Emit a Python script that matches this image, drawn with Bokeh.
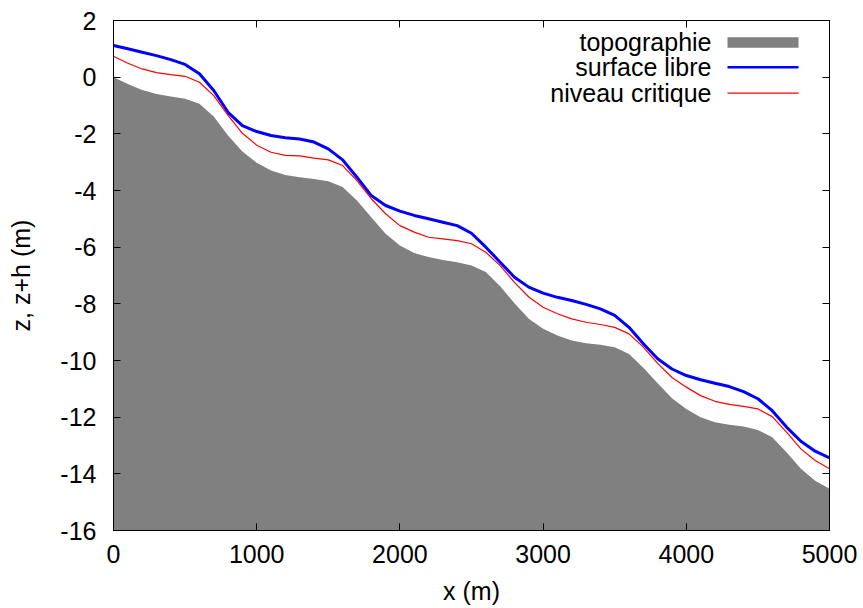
from bokeh.plotting import figure
from bokeh.models import Range1d, LinearAxis, FixedTicker, Label, BoxAnnotation
from bokeh.embed import file_html
from bokeh.resources import INLINE

# ---- data ----
x_m = [0, 100, 200, 300, 400, 500, 600, 700, 800, 900,
       1000, 1100, 1200, 1300, 1400, 1500, 1600, 1700, 1800, 1900,
       2000, 2100, 2200, 2300, 2400, 2500, 2600, 2700, 2800, 2900,
       3000, 3100, 3200, 3300, 3400, 3500, 3600, 3700, 3800, 3900,
       4000, 4100, 4200, 4300, 4400, 4500, 4600, 4700, 4800, 4900, 5000]

topographie = [0.0, -0.24, -0.45, -0.59, -0.68, -0.76, -0.94, -1.39, -2.06, -2.62,
               -3.02, -3.29, -3.45, -3.53, -3.59, -3.67, -3.88, -4.35, -4.94, -5.53,
               -5.94, -6.21, -6.35, -6.45, -6.53, -6.65, -6.88, -7.38, -7.98, -8.53,
               -8.88, -9.12, -9.29, -9.39, -9.44, -9.53, -9.77, -10.26, -10.80, -11.33,
               -11.71, -12.0, -12.18, -12.27, -12.33, -12.45, -12.71, -13.24, -13.82, -14.24, -14.53]

surface_libre = [1.12, 1.0, 0.88, 0.76, 0.62, 0.45, 0.12, -0.47, -1.24, -1.71,
                 -1.92, -2.06, -2.14, -2.18, -2.29, -2.53, -2.92, -3.53, -4.18, -4.53,
                 -4.73, -4.88, -5.0, -5.12, -5.24, -5.51, -6.0, -6.53, -7.06, -7.41,
                 -7.62, -7.77, -7.88, -8.02, -8.18, -8.41, -8.83, -9.41, -9.94, -10.3,
                 -10.53, -10.68, -10.8, -10.92, -11.1, -11.35, -11.77, -12.35, -12.85, -13.2, -13.44]

niveau_critique = [0.74, 0.49, 0.29, 0.16, 0.09, 0.03, -0.18, -0.65, -1.35, -1.98,
                   -2.40, -2.65, -2.76, -2.78, -2.86, -2.92, -3.12, -3.65, -4.29, -4.82,
                   -5.24, -5.47, -5.65, -5.71, -5.77, -5.88, -6.18, -6.65, -7.24, -7.76,
                   -8.12, -8.35, -8.53, -8.65, -8.73, -8.83, -9.06, -9.53, -10.1, -10.6,
                   -10.94, -11.24, -11.44, -11.55, -11.62, -11.71, -11.98, -12.53, -13.12, -13.53, -13.82]

x_ticks = [0, 1000, 2000, 3000, 4000, 5000]
y_ticks = [2, 0, -2, -4, -6, -8, -10, -12, -14, -16]
x_min, x_max = 0, 5000
y_min, y_max = -16, 2

x_title = "x (m)"
y_title = "z, z+h (m)"
legend_names = ["topographie", "surface libre", "niveau critique"]

FONT = "Liberation Sans"
FS = "25px"

p = figure(width=863, height=608, output_backend="svg", toolbar_location=None,
           x_range=Range1d(x_min, x_max), y_range=Range1d(y_min, y_max),
           min_border_left=113, min_border_right=34, min_border_top=20, min_border_bottom=78)
p.xgrid.visible = False
p.ygrid.visible = False
p.outline_line_color = "black"
p.outline_line_width = 1
p.background_fill_color = "white"
p.border_fill_color = "white"

# data
p.varea(x=x_m, y1=y_min, y2=topographie, fill_color="#808080")
p.line(x_m, surface_libre, line_color="#0000ff", line_width=3)
p.line(x_m, niveau_critique, line_color="#ff0000", line_width=1.2)

def style_axis(ax, ticks, labels=True):
    ax.ticker = FixedTicker(ticks=ticks)
    ax.major_tick_in = 7
    ax.major_tick_out = 0
    ax.minor_tick_line_color = None
    ax.axis_line_color = "black"
    ax.major_tick_line_color = "black"
    ax.major_label_text_font = FONT
    ax.major_label_text_font_size = FS
    ax.major_label_text_color = "black"
    ax.axis_label_text_font = FONT
    ax.axis_label_text_font_size = FS
    ax.axis_label_text_font_style = "normal"
    ax.axis_label_text_color = "black"
    if labels:
        ax.major_label_overrides = {t: str(t) for t in ticks}
    else:
        ax.major_label_overrides = {t: "" for t in ticks}
        ax.major_label_standoff = 0

style_axis(p.xaxis[0], x_ticks)
style_axis(p.yaxis[0], y_ticks)
p.xaxis[0].axis_label = x_title
p.yaxis[0].axis_label = y_title
p.xaxis[0].major_label_standoff = 14
p.xaxis[0].axis_label_standoff = 11
p.yaxis[0].major_label_standoff = 17
p.yaxis[0].axis_label_standoff = 22

top_ax = LinearAxis()
right_ax = LinearAxis()
style_axis(top_ax, x_ticks, labels=False)
style_axis(right_ax, y_ticks, labels=False)
p.add_layout(top_ax, "above")
p.add_layout(right_ax, "right")

# legend (gnuplot style: text right-aligned, sample on the right)
# screen units are measured from the frame's bottom-left corner
legend_rows = [488.3, 463.3, 437.3]
for name, yc in zip(legend_names, legend_rows):
    p.add_layout(Label(x=598, y=yc, x_units="screen", y_units="screen", text=name,
                       text_align="right", text_baseline="middle",
                       text_font=FONT, text_font_size=FS, text_color="black"))

def swatch(top, bottom, color):
    p.add_layout(BoxAnnotation(left=614, right=685, top=top, bottom=bottom,
                               left_units="screen", right_units="screen",
                               top_units="screen", bottom_units="screen",
                               fill_color=color, fill_alpha=1, line_color=None))

swatch(493.3, 482.7, "#808080")
swatch(464.6, 462.0, "#0000ff")
swatch(437.9, 436.7, "#ff0000")

open("out.html", "w").write(file_html(p, INLINE))
